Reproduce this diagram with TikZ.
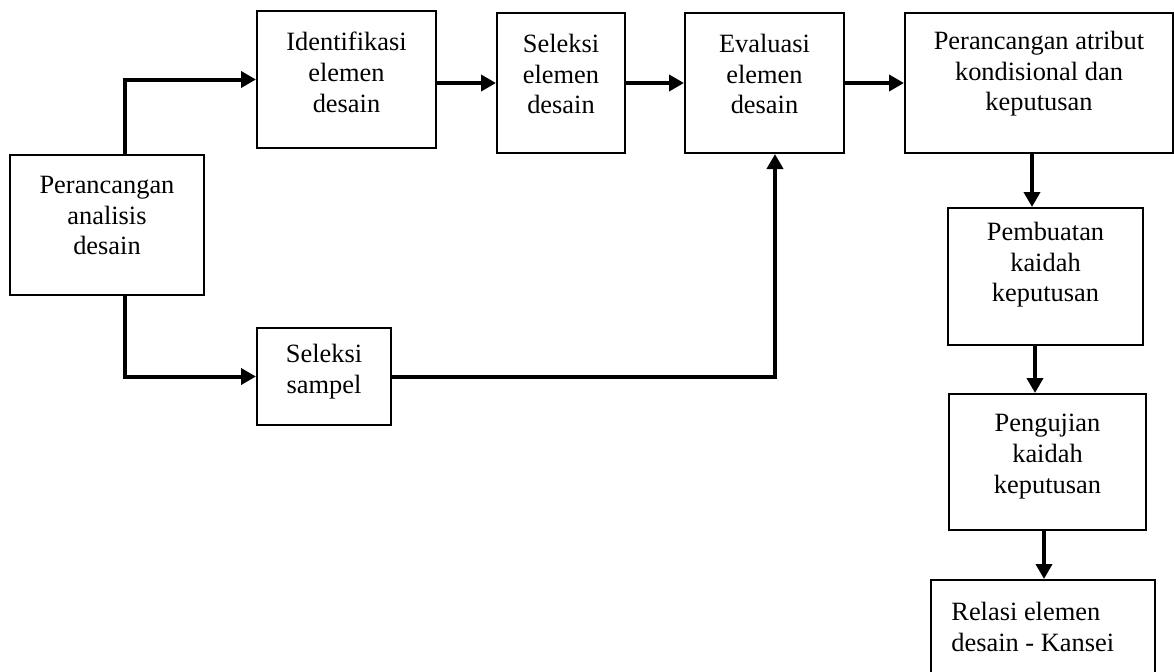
\documentclass[tikz,border=0pt]{standalone}
\usepackage{fontspec}
\setmainfont{Liberation Serif}
\usetikzlibrary{arrows.meta}

\tikzset{
  box/.style={draw, line width=1pt, inner sep=0pt},
  txt/.style={anchor=north, align=center, inner sep=0pt, font=\fontsize{13.2}{15.3}\selectfont},
  flow/.style={line width=2pt, -{Triangle[length=7.5pt,width=8pt]}}
}

\begin{document}
\begin{tikzpicture}[x=0.5pt,y=-0.5pt]

\useasboundingbox (0,0) rectangle (1174,671);
\clip (0,0) rectangle (1174,671);

% boxes
\node[box, minimum width=97pt, minimum height=70pt,
  label={[txt,yshift=-11pt]north:Perancangan\\analisis\\desain}] (design) at (107,225) {};
\node[box, minimum width=89.5pt, minimum height=68.5pt,
  label={[txt,yshift=-11pt]north:Identifikasi\\elemen\\desain}] (ident) at (346.5,79.5) {};
\node[box, minimum width=64pt, minimum height=70pt,
  label={[txt,yshift=-11pt]north:Seleksi\\elemen\\desain}] (selel) at (561,83) {};
\node[box, minimum width=79.5pt, minimum height=70pt,
  label={[txt,yshift=-11pt]north:Evaluasi\\elemen\\desain}] (eval) at (764.5,83) {};
\node[box, minimum width=134pt, minimum height=70pt,
  label={[txt,yshift=-9.5pt]north:Perancangan atribut\\kondisional dan\\keputusan}] (atrib) at (1039,83) {};
\node[box, minimum width=97.5pt, minimum height=68.5pt,
  label={[txt,yshift=-7.5pt]north:Pembuatan\\kaidah\\keputusan}] (buat) at (1045.5,276.5) {};
\node[box, minimum width=98.5pt, minimum height=68pt,
  label={[txt,yshift=-10.5pt]north:Pengujian\\kaidah\\keputusan}] (uji) at (1047.5,462) {};
\node[box, minimum width=112pt, minimum height=55pt,
  label={[txt,anchor=north west,align=left,xshift=10.5pt,yshift=-11.5pt]north west:Relasi elemen\\desain - Kansei}] (relasi) at (1043,635) {};
\node[box, minimum width=67pt, minimum height=48.5pt,
  label={[txt,yshift=-8.5pt]north:Seleksi\\sampel}] (sampel) at (324,376.5) {};

% connectors
\draw[flow] ([xshift=9pt]design.north) |- (ident.west);
\draw[flow] ([xshift=9pt]design.south) |- (sampel.west);
\draw[flow] (ident.east |- selel.west) -- (selel.west);
\draw[flow] (selel.east) -- (eval.west);
\draw[flow] (eval.east) -- (atrib.west);
\draw[flow] (sampel.east) -| ([xshift=5.25pt]eval.south);
\draw[flow] ([xshift=-3.5pt]atrib.south) -- ([xshift=-3.5pt]atrib.south |- buat.north);
\draw[flow] ([xshift=-5.25pt]buat.south) -- ([xshift=-5.25pt]buat.south |- uji.north);
\draw[flow] ([xshift=-1.75pt]uji.south) -- ([xshift=-1.75pt]uji.south |- relasi.north);

\end{tikzpicture}
\end{document}
